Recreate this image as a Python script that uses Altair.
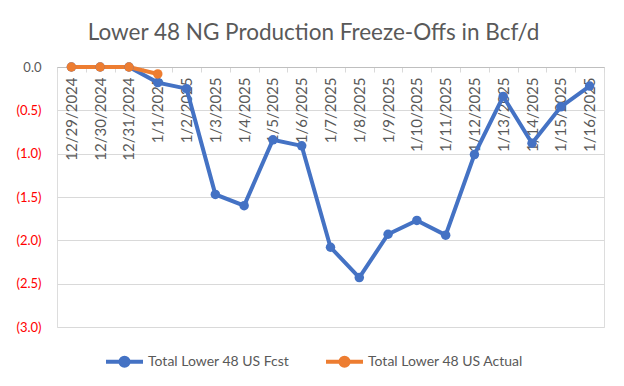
import altair as alt
import pandas as pd

dates = ["12/29/2024", "12/30/2024", "12/31/2024", "1/1/2025", "1/2/2025", "1/3/2025",
         "1/4/2025", "1/5/2025", "1/6/2025", "1/7/2025", "1/8/2025", "1/9/2025",
         "1/10/2025", "1/11/2025", "1/12/2025", "1/13/2025", "1/14/2025", "1/15/2025",
         "1/16/2025"]
fcst = [0.0, 0.0, 0.0, -0.18, -0.25, -1.47, -1.60, -0.84, -0.91, -2.08, -2.43, -1.93,
        -1.77, -1.94, -1.01, -0.34, -0.88, -0.46, -0.22]
actual_dates = ["12/29/2024", "12/30/2024", "12/31/2024", "1/1/2025"]
actual = [0.0, 0.0, 0.0, -0.08]

S_FCST = "Total Lower 48 US Fcst"
S_ACT = "Total Lower 48 US Actual"

rows = [{"date": d, "value": v, "series": S_FCST, "order": 0} for d, v in zip(dates, fcst)]
rows += [{"date": d, "value": v, "series": S_ACT, "order": 1} for d, v in zip(actual_dates, actual)]
df = pd.DataFrame(rows)

FONT = "Lato"
GRAY = "#595959"

color = alt.Color(
    "series:N",
    scale=alt.Scale(domain=[S_FCST, S_ACT], range=["#4472C4", "#ED7D31"]),
    legend=alt.Legend(
        title=None, orient="none", direction="horizontal", legendX=47, legendY=274,
        symbolType="M-1,0L1,0M-0.22,0A0.22,0.22 0 1,1 0.22,0A0.22,0.22 0 1,1 -0.22,0",
        symbolSize=1369, symbolStrokeWidth=4, labelFont=FONT, labelFontSize=14,
        labelColor=GRAY, columnPadding=28, labelOffset=3,
    ),
)

chart = (
    alt.Chart(df)
    .mark_line(strokeWidth=4, point=alt.OverlayMarkDef(size=90, filled=True, opacity=1))
    .encode(
        x=alt.X(
            "date:N", sort=dates, title=None,
            scale=alt.Scale(paddingInner=0, paddingOuter=0),
            axis=alt.Axis(
                orient="bottom", offset=-260, labelAngle=-90, labelFont=FONT,
                labelFontSize=15, labelColor=GRAY, domainColor="#bfbfbf",
                ticks=True, tickBand="extent", tickSize=5, tickColor="#d9d9d9",
                labelPadding=5, grid=False,
            ),
        ),
        y=alt.Y(
            "value:Q", title=None,
            scale=alt.Scale(domain=[-3, 0], nice=False),
            axis=alt.Axis(
                values=[0, -0.5, -1, -1.5, -2, -2.5, -3],
                labelExpr="datum.value < 0 ? '(' + format(-datum.value, '.1f') + ')' : format(datum.value, '.1f')",
                labelColor={"condition": {"test": "datum.value < 0", "value": "#FF0000"}, "value": GRAY},
                labelFont=FONT, labelFontSize=13, ticks=False, domain=False,
                labelPadding=16, gridColor="#d9d9d9", gridWidth=1,
            ),
        ),
        color=color,
        order=alt.Order("order:Q"),
        detail="series:N",
    )
    .properties(
        width=547, height=260,
        title=alt.TitleParams(
            "Lower 48 NG Production Freeze-Offs in Bcf/d", font=FONT, fontSize=22.5,
            fontWeight="normal", color=GRAY, anchor="middle", dx=-17, offset=15,
        ),
        autosize=alt.AutoSizeParams(type="none"),
        padding={"left": 49, "top": 59, "right": 12, "bottom": 51},
    )
    .configure_view(stroke="transparent", strokeWidth=0, strokeOpacity=0)
    .configure(background="white")
)

chart.save("out.html", embed_options={"renderer": "svg", "actions": False})
